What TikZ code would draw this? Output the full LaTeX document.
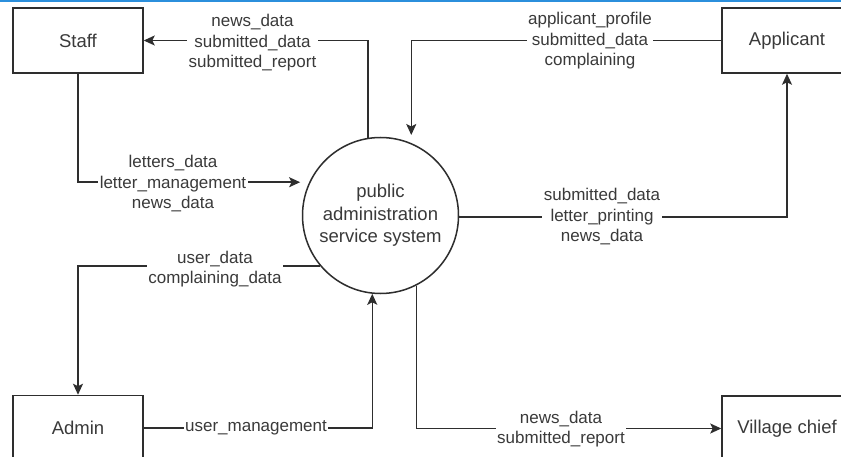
\documentclass[tikz,border=0pt]{standalone}
\usepackage{fontspec}
\setmainfont{Liberation Sans}
\usetikzlibrary{arrows.meta}
\definecolor{ink}{HTML}{2E2E2E}
\definecolor{txt}{HTML}{3A3A3A}
\definecolor{topblue}{HTML}{2B8FDC}
\tikzset{
  ent/.style={draw=ink, line width=1.5pt, minimum width=130pt, minimum height=65pt, inner sep=0pt, text=txt, font=\fontsize{18.5}{22.5}\selectfont},
  proc/.style={draw=ink, line width=1.5pt, circle, minimum size=156pt, inner sep=0pt, text=txt, align=center, font=\fontsize{18.5}{22.5}\selectfont},
  flow/.style={draw=ink, line width=1.5pt, -{Stealth[length=11pt,width=10pt,inset=2.5pt]}},
  lbl/.style={fill=white, text=txt, align=center, inner sep=1.5pt, font=\fontsize{17}{20.5}\selectfont}
}
\begin{document}
\begin{tikzpicture}[x=1pt,y=-1pt]
\useasboundingbox (0,0) rectangle (841,457);
\clip (0,0) rectangle (841,457);
\fill[white] (0,0) rectangle (841,457);
\draw[topblue, line width=2pt] (0,1.5) -- (841,1.5);

\node[ent] (staff) at (78,40.5) {Staff};
\node[ent] (app) at (787,40.5) {Applicant};
\node[ent] (admin) at (78,428) {Admin};
\node[ent] (village) at (787,428.5) {Village chief};
\node[proc] (sys) at (380.5,215.5) {public\\administration\\service system};

% system -> staff
\draw[flow] (sys.99) |- (staff.east);
\node[lbl] (l1) at (252.5,43) {news\_data\\submitted\_data\\submitted\_report};

% applicant -> system
\draw[flow, shorten >=8pt] (app.west) -| (sys.67);
\node[lbl] (l2) at (590,41) {applicant\_profile\\submitted\_data\\complaining};

% staff -> system
\draw[flow, shorten >=9pt] (staff.south) |- (sys.155);
\node[lbl] (l3) at (173,184) {letters\_data\\letter\_management\\news\_data};

% system -> applicant
\draw[flow] (sys.-1) -| (app.south);
\node[lbl] (l4) at (602,217) {submitted\_data\\letter\_printing\\news\_data};

% system -> admin
\draw[flow] (sys.220) -| (admin.north);
\node[lbl] (l5) at (215,269) {user\_data\\complaining\_data};

% admin -> system
\draw[flow] (admin.east) -| (sys.264);
\node[lbl] (l6) at (256,428) {user\_management};

% system -> village chief
\draw[flow] (sys.-63) |- (village.west);
\node[lbl] (l7) at (561,429) {news\_data\\submitted\_report};
\end{tikzpicture}
\end{document}
